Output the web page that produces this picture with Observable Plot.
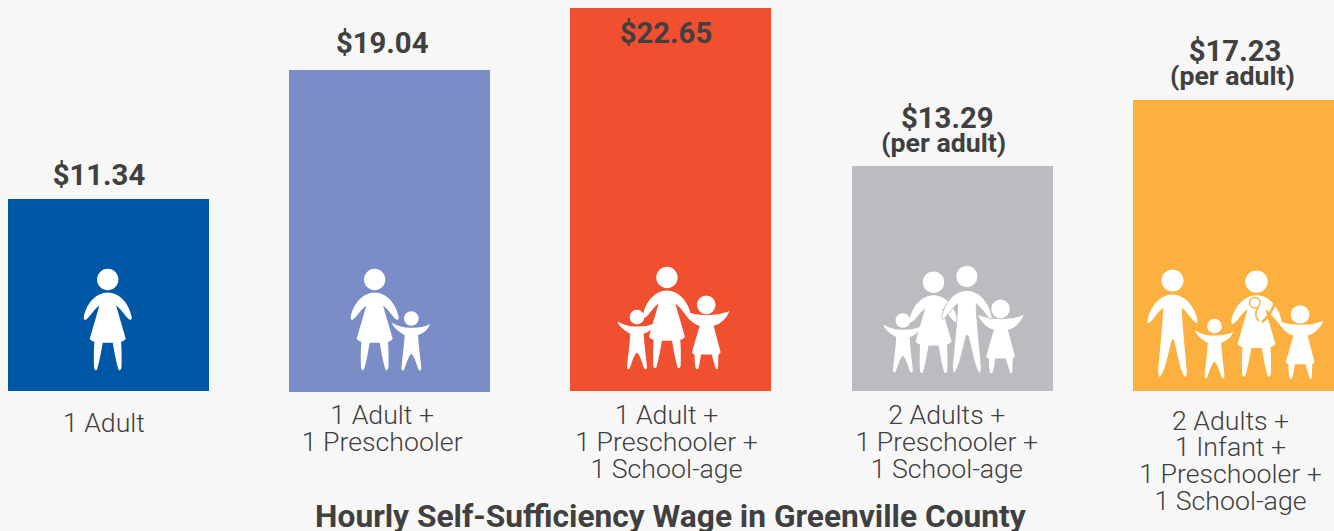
<!DOCTYPE html>
<html><head><meta charset="utf-8">
<script src="https://cdn.jsdelivr.net/npm/d3@7"></script>
<script src="https://cdn.jsdelivr.net/npm/@observablehq/plot@0.6"></script>
<style>html,body{margin:0;padding:0;background:#f7f7f7;overflow:hidden}svg{display:block}</style>
</head><body><div id="chart"></div>
<script>
const categories = ["1 Adult","1 Adult +\n1 Preschooler","1 Adult +\n1 Preschooler +\n1 School-age","2 Adults +\n1 Preschooler +\n1 School-age","2 Adults +\n1 Infant +\n1 Preschooler +\n1 School-age"];
const wages = [11.34,19.04,22.65,13.29,17.23];
const notes = ["","","","(per adult)","(per adult)"];
const barColors = ["#0057a6","#7a8dc7","#f04f30","#bbbcc0","#fbb040"];
const title = "Hourly Self-Sufficiency Wage in Greenville County";

// layout (pixels), separate from the data
const barDy = [0,1,0,0,0];
const wageDy = [-24,-26,25,-48,-49];
const noteDy = [0,0,0,-23,-24];
const wageDx = [-10,-8,-5.5,-5.5,1];
const noteDx = [0,0,0,-9,-1.5];
const labelDy = [32,37.5,51,51,69.5];
const labelDx = [-5,-8,-5,-6,-3.5];

const rows = categories.map((category,i)=>({category,wage:wages[i],note:notes[i],i}));

// figure outlines, units of 1/3 px, origin at feet centre
const shapes = {
  woman:{head:[0,-273,32],d:"M0 -234C-35 -234 -65 -200 -72 -160C-72 -152 -68 -150 -64 -154C-50 -165 -40 -185 -25 -195L-54 -95C-50 -90 -45 -87 -40 -86C-42 -60 -42 -30 -41 -8C-40 -2 -35 2 -32 -3C-24 -30 -20 -55 -15 -83L15 -83C20 -55 24 -30 32 -3C35 2 40 -2 41 -8C42 -30 42 -60 40 -86C45 -87 50 -90 54 -95L25 -195C40 -185 50 -165 64 -154C68 -150 72 -152 72 -160C65 -200 35 -234 0 -234Z"},
  man:{head:[0,-290,33],d:"M0 -248C-38 -248 -68 -210 -75 -170C-76 -162 -72 -160 -68 -164C-55 -176 -42 -198 -28 -208C-28 -170 -38 -80 -43 -20C-43 -5 -40 2 -36 -2C-22 -20 -12 -75 -2 -112C0 -114 2 -114 4 -112C14 -75 22 -20 36 -2C40 2 43 -5 43 -20C38 -80 28 -170 28 -208C42 -198 55 -176 68 -164C72 -160 76 -162 75 -170C68 -210 38 -248 0 -248Z"},
  boy:{head:[0,-156,22],d:"M-59 -144C-45 -135 -25 -128 0 -128C25 -128 45 -132 56 -140C50 -120 35 -112 20 -106C22 -70 27 -40 30 -6C30 0 25 2 22 -2C15 -20 8 -45 0 -50C-8 -45 -15 -20 -22 -2C-25 2 -30 0 -30 -6C-27 -40 -22 -70 -20 -106C-35 -115 -52 -125 -59 -144Z"},
  girl:{head:[0,-193,28],d:"M-68 -175C-45 -165 -20 -162 0 -162C25 -162 50 -165 70 -175C62 -155 45 -135 22 -130L43 -51C40 -46 38 -44 36 -43C36 -30 36 -15 35 -3C33 1 30 1 29 -2C24 -15 20 -30 16 -44L-16 -44C-18 -30 -20 -15 -24 -2C-25 1 -30 1 -32 -3C-35 -15 -35 -30 -35 -43C-38 -44 -41 -46 -43 -51L-20 -130C-40 -135 -60 -155 -68 -175Z"},
  babyHead:{head:[0,0,16],d:""},
  sling:{d:"M57 -227C48 -200 35 -180 17 -165"},
  leaf:{d:"M5 -208C-6 -195 -4 -178 8 -168"}
};

function traceShape(ctx,d,ox,oy,s){
  const toks=d.match(/[MLCZ]|-?[\d.]+/g)||[];let i=0;
  const X=()=>ox+(+toks[i++])*s/3, Y=()=>oy+(+toks[i++])*s/3;
  let cmd;
  while(i<toks.length){
    if(/[MLCZ]/.test(toks[i])) cmd=toks[i++];
    if(cmd==="M"){ctx.moveTo(X(),Y());}
    else if(cmd==="L"){ctx.lineTo(X(),Y());}
    else if(cmd==="C"){const a=X(),b=Y(),c=X(),e=Y(),f=X(),g=Y();ctx.bezierCurveTo(a,b,c,e,f,g);}
    else if(cmd==="Z"){ctx.closePath();}
  }
}
function figure(kind,dx,dy,s=1){
  return {draw(ctx){
    const sh=shapes[kind],ox=dx/3,oy=dy/3;
    if(sh.d) traceShape(ctx,sh.d,ox,oy,s);
    if(sh.head){const [hx,hy,r]=sh.head;const cx=ox+hx*s/3,cy=oy+hy*s/3,R=r*s/3;ctx.moveTo(cx+R,cy);ctx.arc(cx,cy,R,0,2*Math.PI);ctx.closePath();}
  }};
}
// figures per bar: kind, offset from bar centre at the baseline, size, outline width
const icons = [
  [["woman",-3.5,-63,1,0]],
  [["woman",-46.5,-63,1,0],["boy",63.5,-63,1,0]],
  [["boy",-103.5,-67,1,0],["girl",104.5,-67,1,0],["woman",-13.5,-69,1,0]],
  [["boy",-149.5,-57,1,0],["woman",-57.5,-55,1,0],["girl",143.5,-55,1,0],["man",42.5,-55,1,0.9]],
  [["man",-184.5,-43,1,0],["boy",-58.5,-40,1,0],["girl",198.5,-38,1,0],["woman",67.5,-43,1.05,0],["babyHead",62.5,-266,1,1.4],["sling",67.5,-43,1,2.6],["leaf",67.5,-43,1,1.6]]
];

const marks = [];
rows.forEach((r,i)=>{
  marks.push(Plot.barY([r],{x:"category",y:"wage",dy:barDy[i],fill:"category",shapeRendering:"crispEdges"}));
  icons[i].forEach(([kind,dx,dy,s,sw])=>{
    marks.push(Plot.dot([r],{x:"category",y:()=>0,symbol:figure(kind,dx,dy,s),
      fill:(kind==="sling"||kind==="leaf")?"none":"white",stroke:sw?barColors[i]:"none",strokeWidth:sw}));
  });
  marks.push(Plot.text([r],{x:"category",y:"wage",text:d=>"$"+d.wage.toFixed(2),dx:wageDx[i],dy:wageDy[i],
    fontFamily:"Roboto",fontWeight:700,fontSize:29.3,fill:"#404040",lineAnchor:"middle"}));
  if(r.note) marks.push(Plot.text([r],{x:"category",y:"wage",text:"note",dx:noteDx[i],dy:noteDy[i],
    fontFamily:"Roboto",fontWeight:700,fontSize:26.7,fill:"#404040",lineAnchor:"middle"}));
  marks.push(Plot.text([r],{x:"category",y:()=>0,text:"category",dx:labelDx[i],dy:labelDy[i],
    fontFamily:"Roboto",fontWeight:300,fontSize:26.7,lineHeight:1,fill:"#404040",lineAnchor:"middle"}));
});
marks.push(Plot.text([title],{y:()=>0,dy:125,dx:-1,fontFamily:"Roboto",fontWeight:700,fontSize:31.7,fill:"#404040",lineAnchor:"middle"}));

const chart = Plot.plot({
  width:1334,height:531,marginTop:8,marginBottom:140,marginLeft:7.9,marginRight:0,
  style:{background:"#f7f7f7",fontFamily:"Roboto"},
  x:{domain:categories,paddingInner:0.2853,paddingOuter:0,axis:null,round:false},
  y:{domain:[0,22.65],axis:null},
  color:{domain:categories,range:barColors},
  marks
});
document.getElementById("chart").appendChild(chart);
</script></body></html>
